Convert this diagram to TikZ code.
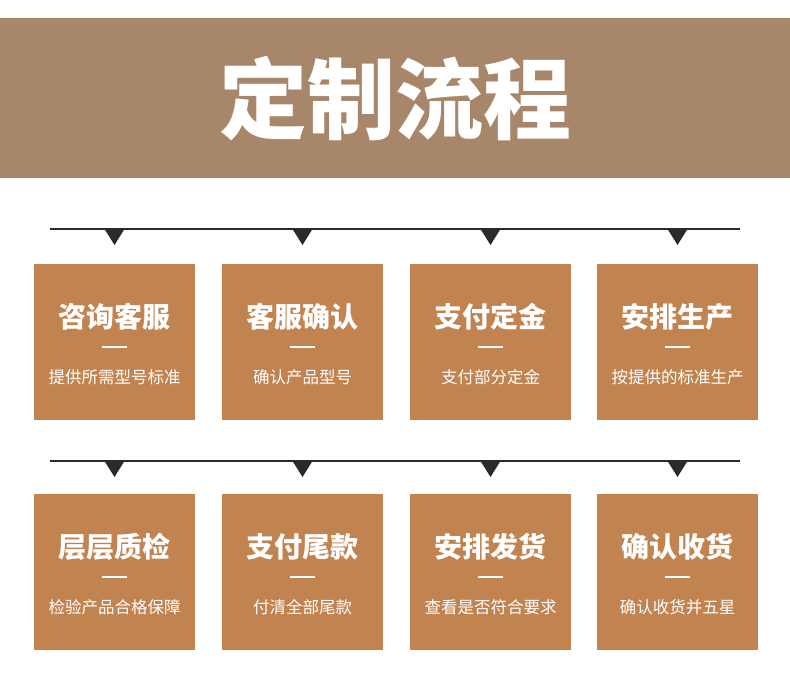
\documentclass[tikz,border=0pt]{standalone}
\usepackage{fontspec}
\newfontfamily\cjk{Noto Sans CJK SC}
\definecolor{hdr}{HTML}{A8866A}
\definecolor{boxc}{HTML}{C1834F}
\definecolor{tri}{HTML}{2A2A2A}
\tikzset{
  stepbox/.style={fill=boxc, draw=none, minimum width=161pt, minimum height=156pt, inner sep=0pt},
  boxtitle/.style={text=white, font=\cjk\bfseries\fontsize{28}{30}\selectfont, inner sep=0pt},
  boxsub/.style={text=white, font=\cjk\fontsize{16.5}{18}\selectfont, inner sep=0pt},
  sepline/.style={draw=tri, line width=1.2pt},
  tridown/.style={fill=tri, draw=none},
}
\begin{document}
\begin{tikzpicture}[x=1pt,y=-1pt]
\useasboundingbox (0,0) rectangle (790,682);
\fill[white] (0,0) rectangle (790,682);
\fill[hdr] (0,18) rectangle (790,178);
\node[text=white, font=\cjk\bfseries\fontsize{88}{92}\selectfont, inner sep=0pt] (title) at (395,99) {定制流程};
% separator lines
\coordinate (l1a) at (50,229); \coordinate (l1b) at (740,229);
\coordinate (l2a) at (50,461); \coordinate (l2b) at (740,461);
\draw[sepline] (l1a) -- (l1b);
\draw[sepline] (l2a) -- (l2b);
\foreach \i/\cx in {1/114.5,2/302.5,3/490.5,4/677.5}{
  \fill[tridown] (\cx-10,229) -- (\cx+10,229) -- (\cx,245) -- cycle;
  \fill[tridown] (\cx-10,461) -- (\cx+10,461) -- (\cx,477) -- cycle;
}
% boxes
\foreach \n/\cx/\cy/\t/\s in {
  a/114.5/342/咨询客服/提供所需型号标准,
  b/302.5/342/客服确认/确认产品型号,
  c/490.5/342/支付定金/支付部分定金,
  d/677.5/342/安排生产/按提供的标准生产,
  e/114.5/572/层层质检/检验产品合格保障,
  f/302.5/572/支付尾款/付清全部尾款,
  g/490.5/572/安排发货/查看是否符合要求,
  h/677.5/572/确认收货/确认收货并五星}{
  \node[stepbox] (\n) at (\cx,\cy) {};
  \node[boxtitle] (\n t) at (\cx,\cy-25) {\t};
  \fill[white] (\cx-12.5,\cy+3.5) rectangle (\cx+12.5,\cy+6);
  \node[boxsub] (\n s) at (\cx,\cy+35) {\s};
}
\end{tikzpicture}
\end{document}
